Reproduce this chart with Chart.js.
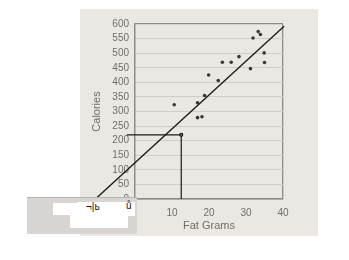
<!DOCTYPE html>
<html>
<head>
<meta charset="utf-8">
<script src="https://cdn.jsdelivr.net/npm/chart.js@4.4.1/dist/chart.umd.min.js"></script>
<style>
  body { margin: 0; background: #fff; }
  #wrap { position: relative; width: 349px; height: 260px; overflow: hidden; }
  #photo { position: absolute; left: 80px; top: 9px; width: 238px; height: 227px; background: #ebe8e4; }
  canvas { position: absolute; left: 0; top: 0; }
  /* pasted strip over the lower left corner of the photo */
  #strip { position: absolute; left: 27px; top: 197px; width: 110px; height: 36px; background: #d8d5d2; border-top: 1px solid #b5b2af; }
  .patch { position: absolute; background: #fff; }
  .glyph { position: absolute; font: 10px "Liberation Sans", Arial, sans-serif; color: #111; }
</style>
</head>
<body>
<div id="wrap">
  <div id="photo"></div>
  <canvas id="fatChart" width="349" height="260"></canvas>
  <div id="strip">
    <div class="patch" style="left:26px;top:5px;width:24px;height:12px"></div>
    <div class="patch" style="left:50px;top:4px;width:58px;height:14px"></div>
    <div class="patch" style="left:43px;top:17px;width:58px;height:13px"></div>
    <span class="glyph" style="left:59px;top:3px">¬|ь</span>
    <span class="glyph" style="left:99px;top:2px">ů</span>
  </div>
</div>
<script>
// fat grams vs calories
const fatGrams = [33.3, 33.9, 31.9, 34.9, 28.1, 23.6, 26.0, 35.0, 31.2, 19.9, 22.5, 18.8, 16.9, 10.6, 16.9, 18.1];
const calories = [574, 564, 552, 501, 488, 469, 469, 468, 447, 425, 406, 355, 330, 323, 279, 282];

// line of best fit, drawn past the axis like in the photo
const fitX = [-10.7, 40.3];
const fitY = [0, 592];

// hand drawn reading lines (about 12 g -> 220 cal)
const markX = [-2.2, 12.5, 12.5];
const markY = [220, 220, 0];

const xTicks = [0, 10, 20, 30, 40];
const yMax = 600;

const toPoints = (xs, ys) => xs.map((x, i) => ({ x: x, y: ys[i] }));

const frame = "#8e8c8a";
const gridLine = "#cfccc9";
const textGray = "#6f6d6b";

const ctx = document.getElementById("fatChart").getContext("2d");

new Chart(ctx, {
  type: "scatter",
  data: {
    datasets: [
      {
        data: toPoints(fatGrams, calories),
        backgroundColor: "#3a3836",
        borderWidth: 0,
        pointRadius: 1.8,
      },
      {
        data: toPoints(fitX, fitY),
        showLine: true,
        borderColor: "#1c1b1a",
        borderWidth: 1.4,
        backgroundColor: "#1c1b1a",
        pointRadius: [2, 0],
        clip: false,
      },
      {
        data: toPoints(markX, markY),
        showLine: true,
        borderColor: "#1c1b1a",
        borderWidth: 1.2,
        backgroundColor: "#777",
        pointRadius: [0, 1.5, 0],
        clip: false,
      },
    ],
  },
  options: {
    responsive: false,
    animation: false,
    events: [],
    layout: {
      padding: { left: 80, right: 66, top: 24, bottom: 25 },
    },
    plugins: {
      legend: { display: false },
      tooltip: { enabled: false },
    },
    scales: {
      x: {
        type: "linear",
        min: xTicks[0],
        max: xTicks[xTicks.length - 1],
        afterBuildTicks: (scale) => {
          scale.ticks = xTicks.map((v) => ({ value: v }));
        },
        afterFit: (scale) => {
          scale.height = 36;
        },
        ticks: {
          padding: 8,
          color: textGray,
          font: { family: "Liberation Sans", size: 10 },
          callback: (v) => (v === 0 ? "" : v),
        },
        grid: {
          drawTicks: false,
          color: (c) => (c.tick && c.tick.value === 40 ? frame : "transparent"),
          lineWidth: 1.3,
        },
        border: { color: frame, width: 1.5 },
        title: {
          display: true,
          text: "Fat Grams",
          color: textGray,
          font: { family: "Liberation Sans", size: 11 },
          padding: { top: 0, bottom: 2 },
        },
      },
      y: {
        min: 0,
        max: yMax,
        afterFit: (scale) => {
          scale.width = 55;
        },
        ticks: {
          stepSize: 50,
          autoSkip: false,
          padding: 6,
          color: textGray,
          font: { family: "Liberation Sans", size: 10 },
        },
        grid: {
          drawTicks: false,
          color: (c) => (c.tick && c.tick.value === yMax ? frame : gridLine),
          lineWidth: (c) => (c.tick && c.tick.value === yMax ? 1.3 : 1),
        },
        border: { color: frame, width: 1.5 },
        title: {
          display: true,
          text: "Calories",
          color: textGray,
          font: { family: "Liberation Sans", size: 11 },
          padding: { top: 10, bottom: 0 },
        },
      },
    },
  },
});
</script>
</body>
</html>
